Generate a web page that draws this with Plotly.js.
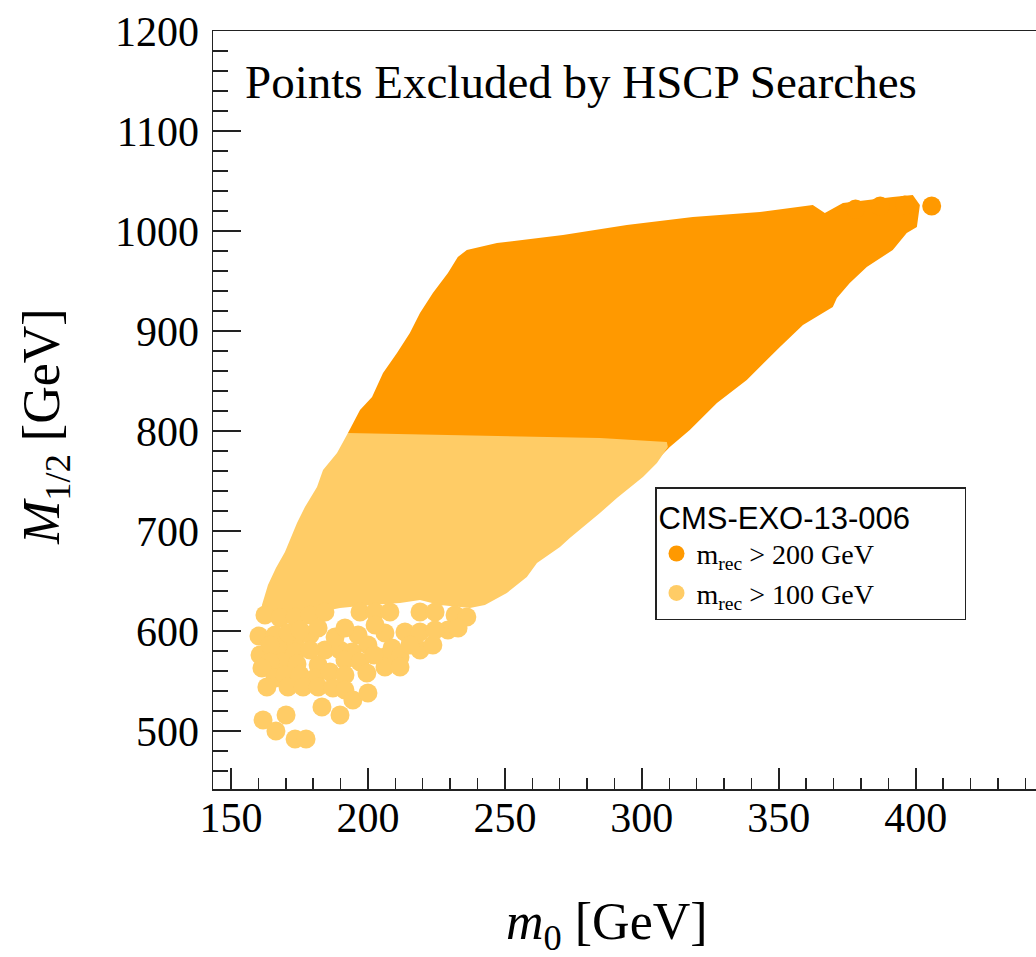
<!DOCTYPE html>
<html>
<head>
<meta charset="utf-8">
<script src="https://cdn.plot.ly/plotly-3.0.1.min.js"></script>
<style>
html, body { margin: 0; padding: 0; overflow: hidden; background: #fff; }
#chart { width: 1090px; height: 957px; }
</style>
</head>
<body>
<div id="chart"></div>
<script>
// ---- Data (m0 [GeV], M1/2 [GeV]) ----
// Outline of the dense region of points with m_rec > 200 GeV
const m0_dark_edge = [192.7, 192.7, 197.1, 201.5, 205.5, 210.6, 215.3, 219.0, 223.7, 229.2, 232.8, 236.1, 247.1, 271.2, 294.5, 318.6, 343.1, 362.4, 366.8, 373.4, 391.6, 398.9, 401.5, 400.4, 396.7, 391.6, 382.1, 375.9, 371.2, 369.7, 358.8, 350.4, 338.3, 327.4, 317.5, 310.2, 305.5, 284.7];
const m12_dark_edge = [786, 798, 821, 834, 858, 878, 898, 918, 938, 958, 974, 981, 988, 996, 1006, 1014, 1019, 1026, 1018, 1028, 1034, 1036, 1026, 1004, 998, 981, 964, 948, 933, 924, 906, 884, 851, 828, 801, 784, 771, 781];
// Individual points (m_rec > 200 GeV) at the upper-right fringe
const m0_dark_pts = [405.8, 396.0, 387.0, 378.0];
const m12_dark_pts = [1025, 1026, 1025, 1022];

// Outline of the dense region of points with m_rec > 100 GeV
const m0_light_edge = [192.7, 248.2, 284.7, 309.1, 309.5, 305.5, 300.4, 290.9, 284.7, 273.7, 270.1, 261.7, 258.0, 250.7, 242.7, 237.2, 226.3, 219.0, 211.7, 200.7, 189.8, 182.5, 171.5, 161.3, 161.3, 163.5, 166.4, 169.7, 171.5, 174.1, 177.0, 181.4, 183.6, 188.7];
const m12_light_edge = [798, 795, 793, 789, 784, 768, 754, 733, 718, 693, 684, 668, 654, 638, 626, 623, 626, 631, 628, 626, 623, 619, 611, 609, 626, 646, 663, 679, 691, 708, 724, 744, 761, 778];
// Individual points (m_rec > 100 GeV) in the sparse lower-left corner
const m0_light_pts = [162.4, 167.9, 173.4, 178.8, 184.3, 197.1, 202.6, 208.0, 219.0, 224.5, 231.8, 236.1,
  160.2, 160.6, 166.1, 167.9, 173.4, 173.4, 168.6, 174.1, 178.8, 184.3, 189.8, 188.0, 196.4, 200.0, 194.2, 206.2, 208.8, 206.2, 211.7, 206.2, 211.7, 219.0, 223.7, 229.2, 232.9,
  164.2, 170.8, 175.2, 181.8, 191.6, 202.6, 213.5, 219.0, 224.5, 164.2, 178.8, 181.8, 191.6, 197.1, 202.2, 215.3, 161.3, 166.1, 180.7,
  169.7, 175.2, 186.1, 191.6, 163.1, 170.8, 176.3, 181.8, 187.2, 191.6, 194.5, 200.0, 199.6,
  183.2, 189.8, 161.7, 170.1, 166.4, 173.4, 177.4];
const m12_light_pts = [616, 613, 614, 616, 619, 619, 619, 619, 619, 619, 616, 614,
  595, 576, 596, 583, 591, 579, 569, 567, 596, 581, 581, 594, 596, 586, 579, 598, 583, 574, 574, 564, 564, 581, 586, 601, 603,
  586, 598, 601, 603, 603, 606, 599, 599, 601, 569, 581, 566, 571, 569, 576, 586, 563, 553, 553,
  556, 556, 559, 556, 544, 544, 544, 544, 543, 541, 531, 538, 558,
  524, 516, 511, 516, 500, 492, 492];

const seriesNames = ['m<sub>rec</sub> &gt; 200 GeV', 'm<sub>rec</sub> &gt; 100 GeV'];
const seriesColors = ['#FF9900', '#FFCC66'];

const traces = [
  { x: m0_dark_edge, y: m12_dark_edge, type: 'scatter', mode: 'lines', fill: 'toself',
    fillcolor: seriesColors[0], line: { width: 0, color: seriesColors[0] },
    showlegend: false, legendgroup: 'a', hoverinfo: 'skip' },
  { x: m0_dark_pts, y: m12_dark_pts, type: 'scatter', mode: 'markers', name: seriesNames[0],
    marker: { color: seriesColors[0], size: 19 }, legendgroup: 'a' },
  { x: m0_light_edge, y: m12_light_edge, type: 'scatter', mode: 'lines', fill: 'toself',
    fillcolor: seriesColors[1], line: { width: 0, color: seriesColors[1] },
    showlegend: false, legendgroup: 'b', hoverinfo: 'skip' },
  { x: m0_light_pts, y: m12_light_pts, type: 'scatter', mode: 'markers', name: seriesNames[1],
    marker: { color: seriesColors[1], size: 19 }, legendgroup: 'b' }
];

const serif = 'Liberation Serif, Times New Roman, serif';
const axisCommon = {
  ticks: 'inside', tickwidth: 1.5, tickcolor: '#222',
  showline: true, linecolor: '#222', linewidth: 1.5, mirror: true,
  showgrid: false, zeroline: false,
  tickfont: { family: serif, size: 42, color: '#000' }
};

const W = 1090, L = 213, R = 40, T = 31, B = 168;
const PW = W - L - R, PH = 957 - T - B;

const layout = {
  width: W, height: 957,
  margin: { l: L, r: R, t: T, b: B, pad: 0 },
  paper_bgcolor: '#fff', plot_bgcolor: '#fff',
  title: {
    text: 'Points Excluded by HSCP Searches',
    xref: 'container', yref: 'container',
    x: 245 / W, xanchor: 'left', y: 1 - 82 / 957, yanchor: 'middle',
    font: { family: serif, size: 47, color: '#000' }
  },
  xaxis: Object.assign({}, axisCommon, {
    range: [143.43, 449], tick0: 150, dtick: 50, ticklen: 21,
    ticklabelstandoff: -9,
    minor: { dtick: 10, ticks: 'inside', ticklen: 11, tickwidth: 1.5, tickcolor: '#222', showgrid: false }
  }),
  yaxis: Object.assign({}, axisCommon, {
    range: [442, 1200], tick0: 0, dtick: 100, ticklen: 28,
    ticklabelstandoff: 4,
    minor: { dtick: 20, ticks: 'inside', ticklen: 15, tickwidth: 1.5, tickcolor: '#222', showgrid: false }
  }),
  annotations: [
    {
      text: '<i>m</i><sub>0</sub> [GeV]', xref: 'paper', yref: 'paper',
      x: (607 - L) / PW, y: (789 - 925) / PH, xanchor: 'center', yanchor: 'middle',
      showarrow: false, font: { family: serif, size: 52, color: '#000' }
    },
    {
      text: '<i>M</i><sub>1/2</sub> [GeV]', xref: 'paper', yref: 'paper', textangle: -90,
      x: (45 - L) / PW, y: (789 - 427) / PH, xanchor: 'center', yanchor: 'middle',
      showarrow: false, font: { family: serif, size: 52, color: '#000' }
    }
  ],
  legend: {
    x: (655 - L) / PW, y: (789 - 487) / PH, xanchor: 'left', yanchor: 'top',
    bgcolor: '#fff', bordercolor: '#222', borderwidth: 1.5,
    font: { family: serif, size: 28, color: '#000' },
    title: { text: 'CMS-EXO-13-006&nbsp;&nbsp;&nbsp;&nbsp;&nbsp;&nbsp;', font: { family: 'Liberation Sans, Arial, sans-serif', size: 31, color: '#000' } },
    itemsizing: 'trace', tracegroupgap: 0
  },
  showlegend: true
};

Plotly.newPlot('chart', traces, layout, { displayModeBar: false, staticPlot: true });
</script>
</body>
</html>
